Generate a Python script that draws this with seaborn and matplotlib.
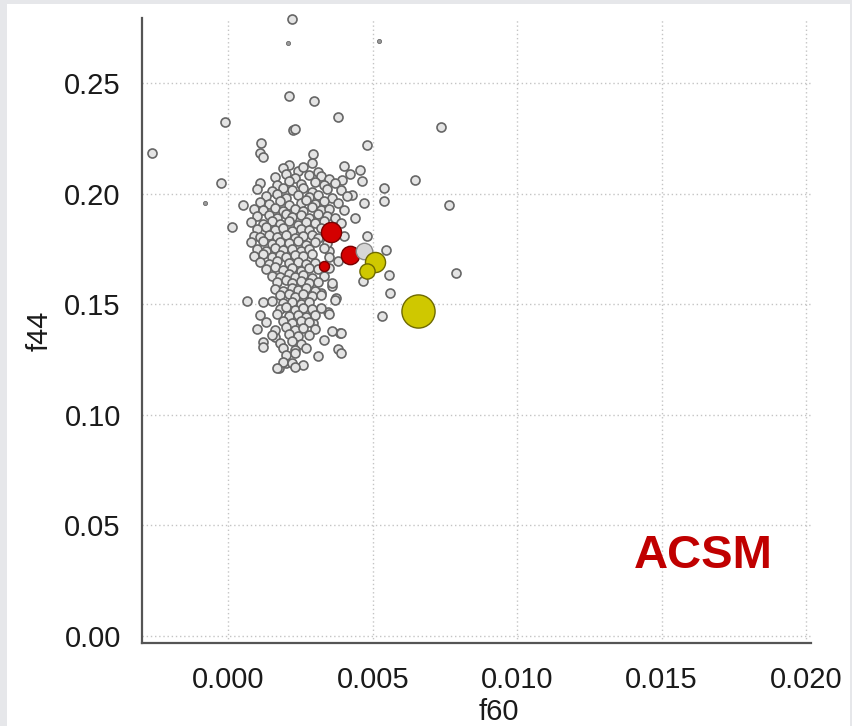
import matplotlib
matplotlib.use("Agg")
import matplotlib.pyplot as plt
from matplotlib.patches import Rectangle
import seaborn as sns
import pandas as pd

# ---------------- data ----------------
# regular grey circles (f60, f44)
f60_grey = [
    # outliers / sparse points
    0.00219, 0.00211, 0.00295, 0.00379, -0.00010, 0.00225, 0.00232, 0.00736,
    -0.00265, 0.00479, 0.00112, 0.00110, 0.00119, 0.00292, 0.00289, 0.00211,
    -0.00025, 0.00645, 0.00765, 0.00787, 0.00538, 0.00538, 0.00400, 0.00455,
    0.00420, 0.00462, 0.00395, 0.00052, 0.00012, 0.00063, 0.00532, 0.00560,
    0.00555, 0.00546, 0.00480, 0.00470, 0.00429, 0.00439, 0.00465, 0.00387,
    0.00346, 0.00372, 0.00360, 0.00349, 0.00321, 0.00294, 0.00162, 0.00177,
    0.00199,
    # dense cluster
    0.0019, 0.0024, 0.0026, 0.0031,
    0.0016, 0.0020, 0.0023, 0.0028, 0.0032, 0.0035,
    0.0011, 0.0017, 0.0021, 0.0025, 0.0030, 0.0033, 0.0037,
    0.0010, 0.0015, 0.0019, 0.0022, 0.0026, 0.0029, 0.0034, 0.0039,
    0.0013, 0.0017, 0.0020, 0.0024, 0.0028, 0.0031, 0.0036, 0.0041,
    0.0011, 0.0014, 0.0018, 0.0021, 0.0025, 0.0027, 0.0030, 0.0033, 0.0038,
    0.0009, 0.0012, 0.0016, 0.0019, 0.0023, 0.0026, 0.0029, 0.0032, 0.0035, 0.0040,
    0.0010, 0.0014, 0.0017, 0.0020, 0.0022, 0.0025, 0.0028, 0.0031, 0.0034, 0.0037,
    0.0008, 0.0012, 0.0015, 0.0018, 0.0021, 0.0024, 0.0027, 0.0030, 0.0033, 0.0039,
    0.0010, 0.0013, 0.0016, 0.0019, 0.0022, 0.0025, 0.0028, 0.0032,
    0.0009, 0.0011, 0.0014, 0.0017, 0.0020, 0.0023, 0.0026, 0.0029, 0.0031, 0.0040,
    0.0008, 0.0012, 0.0015, 0.0018, 0.0021, 0.0024, 0.0027, 0.0030, 0.0034,
    0.0010, 0.0013, 0.0016, 0.0019, 0.0022, 0.0025, 0.0028, 0.0033,
    0.0009, 0.0012, 0.0015, 0.0018, 0.0020, 0.0023, 0.0026, 0.0029, 0.0035,
    0.0011, 0.0014, 0.0017, 0.0021, 0.0024, 0.0027, 0.0030, 0.0038,
    0.0013, 0.0016, 0.0019, 0.0022, 0.0025, 0.0028, 0.0031, 0.0035,
    0.0015, 0.0018, 0.0021, 0.0023, 0.0026, 0.0029, 0.0033,
    0.0017, 0.0020, 0.0022, 0.0025, 0.0028, 0.0031, 0.0036,
    0.0016, 0.0019, 0.0022, 0.0024, 0.0027, 0.0030,
    0.0018, 0.0021, 0.0023, 0.0026, 0.0029, 0.0032,
    0.0012, 0.0015, 0.0019, 0.0022, 0.0025, 0.0028, 0.0037,
    0.0018, 0.0020, 0.0023, 0.0026, 0.0029, 0.0032,
    0.0011, 0.0017, 0.0021, 0.0024, 0.0027, 0.0030, 0.0035,
    0.0013, 0.0019, 0.0022, 0.0025, 0.0028,
    0.0010, 0.0016, 0.0020, 0.0023, 0.0026, 0.0030, 0.0036,
    0.0015, 0.0021, 0.0024, 0.0028, 0.0039,
    0.0012, 0.0018, 0.0022, 0.0025, 0.0033,
    0.0012, 0.0019, 0.0023, 0.0027, 0.0038,
    0.0020, 0.0023, 0.0031, 0.0039,
    0.0019, 0.0022, 0.0026,
    0.0017, 0.0023,
]
f44_grey = [
    # outliers / sparse points
    0.2791, 0.2444, 0.2419, 0.2348, 0.2324, 0.2289, 0.2292, 0.2301,
    0.2186, 0.2219, 0.2230, 0.2186, 0.2165, 0.2179, 0.2141, 0.2130,
    0.2049, 0.2064, 0.1951, 0.1642, 0.2026, 0.1966, 0.2127, 0.2109,
    0.2088, 0.2058, 0.2061, 0.1951, 0.1850, 0.1514, 0.1449, 0.1551,
    0.1631, 0.1744, 0.1808, 0.1957, 0.1992, 0.1889, 0.1603, 0.1369,
    0.1465, 0.1526, 0.1583, 0.1743, 0.1551, 0.1414, 0.1351, 0.1211,
    0.1236,
    # dense cluster
    0.2115, 0.2105, 0.2120, 0.2100,
    0.2075, 0.2090, 0.2070, 0.2085, 0.2078, 0.2068,
    0.2050, 0.2040, 0.2058, 0.2045, 0.2055, 0.2038, 0.2048,
    0.2020, 0.2012, 0.2028, 0.2015, 0.2025, 0.2010, 0.2022, 0.2015,
    0.1990, 0.1998, 0.1982, 0.1995, 0.1985, 0.1992, 0.1980, 0.1988,
    0.1962, 0.1955, 0.1968, 0.1950, 0.1960, 0.1972, 0.1955, 0.1965, 0.1958,
    0.1930, 0.1925, 0.1935, 0.1922, 0.1932, 0.1920, 0.1938, 0.1928, 0.1933, 0.1925,
    0.1900, 0.1905, 0.1892, 0.1908, 0.1895, 0.1902, 0.1890, 0.1906, 0.1898, 0.1892,
    0.1870, 0.1862, 0.1875, 0.1865, 0.1878, 0.1860, 0.1872, 0.1866, 0.1876, 0.1868,
    0.1840, 0.1848, 0.1835, 0.1845, 0.1832, 0.1842, 0.1838, 0.1846,
    0.1810, 0.1802, 0.1815, 0.1805, 0.1812, 0.1800, 0.1808, 0.1815, 0.1798, 0.1808,
    0.1780, 0.1785, 0.1772, 0.1782, 0.1775, 0.1788, 0.1770, 0.1782, 0.1776,
    0.1750, 0.1742, 0.1755, 0.1745, 0.1752, 0.1740, 0.1748, 0.1755,
    0.1720, 0.1728, 0.1715, 0.1725, 0.1712, 0.1722, 0.1718, 0.1726, 0.1715,
    0.1690, 0.1682, 0.1695, 0.1685, 0.1692, 0.1680, 0.1688, 0.1695,
    0.1660, 0.1668, 0.1655, 0.1665, 0.1652, 0.1662, 0.1658, 0.1665,
    0.1630, 0.1622, 0.1635, 0.1625, 0.1632, 0.1620, 0.1628,
    0.1600, 0.1608, 0.1595, 0.1605, 0.1598, 0.1602, 0.1595,
    0.1570, 0.1562, 0.1575, 0.1565, 0.1572, 0.1560,
    0.1540, 0.1548, 0.1535, 0.1545, 0.1538, 0.1542,
    0.1510, 0.1515, 0.1505, 0.1512, 0.1502, 0.1510, 0.1518,
    0.1480, 0.1488, 0.1475, 0.1485, 0.1478, 0.1482,
    0.1450, 0.1455, 0.1445, 0.1452, 0.1442, 0.1450, 0.1458,
    0.1420, 0.1425, 0.1415, 0.1422, 0.1418,
    0.1390, 0.1385, 0.1395, 0.1382, 0.1392, 0.1388, 0.1380,
    0.1360, 0.1365, 0.1355, 0.1362, 0.1368,
    0.1330, 0.1325, 0.1335, 0.1322, 0.1338,
    0.1305, 0.1300, 0.1295, 0.1302, 0.1298,
    0.1270, 0.1278, 0.1266, 0.1278,
    0.1240, 0.1236, 0.1223,
    0.1211, 0.1215,
]
# tiny grey dots
f60_dot = [0.00205, 0.00523, -0.00080]
f44_dot = [0.2681, 0.2692, 0.1960]

# highlighted samples
f60_hl = [0.00355, 0.00421, 0.00332, 0.00471, 0.00508, 0.00479, 0.00656]
f44_hl = [0.1826, 0.1722, 0.1673, 0.1743, 0.1693, 0.1652, 0.1470]
size_hl = [210, 175, 52, 140, 210, 120, 570]
color_hl = ["#d40000", "#d40000", "#d40000", "#d6d6d6", "#cfc800", "#cfc800", "#cfc800"]
edge_hl = ["#7a0000", "#7a0000", "#7a0000", "#8a8a8a", "#6e6a00", "#6e6a00", "#6e6a00"]

xticks = [0.000, 0.005, 0.010, 0.015, 0.020]
yticks = [0.00, 0.05, 0.10, 0.15, 0.20, 0.25]

# ---------------- figure ----------------
sns.set_theme(style="white")
plt.rcParams["font.family"] = ["Liberation Sans", "DejaVu Sans"]

W, H = 853, 726
fig = plt.figure(figsize=(W / 100, H / 100), dpi=100, facecolor="#e6e7ea")
fig.patches.append(Rectangle((7 / W, 0), (850 - 7) / W, (H - 4) / H,
                             transform=fig.transFigure, facecolor="white",
                             edgecolor="none", zorder=-10))

ax = fig.add_axes([142.3 / W, (H - 643.3) / H, (811 - 142.3) / W, (643.3 - 18) / H])
ax.set_zorder(5)
ax.set_facecolor("white")

df_grey = pd.DataFrame({"f60": f60_grey, "f44": f44_grey})
df_dot = pd.DataFrame({"f60": f60_dot, "f44": f44_dot})

sns.scatterplot(data=df_grey, x="f60", y="f44", ax=ax, s=42, color="#e4e4e4",
                edgecolor="#666666", linewidth=1.2, clip_on=False, zorder=3)
sns.scatterplot(data=df_dot, x="f60", y="f44", ax=ax, s=9, color="#9a9a9a",
                edgecolor="#6a6a6a", linewidth=0.6, clip_on=False, zorder=3)

for xv, yv, sv, cv, ev in zip(f60_hl, f44_hl, size_hl, color_hl, edge_hl):
    sns.scatterplot(x=[xv], y=[yv], ax=ax, s=sv, color=cv, edgecolor=ev,
                    linewidth=1.0, zorder=4)

ax.set_xlim(-0.002978, 0.020176)
ax.set_ylim(-0.0034, 0.2795)
ax.set_xticks(xticks)
ax.set_yticks(yticks)
ax.set_xticklabels([f"{v:.3f}" for v in xticks])
ax.set_yticklabels([f"{v:.2f}" for v in yticks])

ax.grid(True, linestyle=(0, (1, 2)), color="#c4c4c4", linewidth=1.0)
ax.set_axisbelow(True)

for side in ["top", "right"]:
    ax.spines[side].set_visible(False)
for side in ["left", "bottom"]:
    ax.spines[side].set_color("#555555")
    ax.spines[side].set_linewidth(1.6)

ax.tick_params(axis="both", direction="out", length=10, width=1.4, color="#555555",
               labelsize=21, labelcolor="#1a1a1a", pad=5.5)
ax.tick_params(axis="x", pad=6.5)

ax.set_xlabel("f60", fontsize=21, color="#1a1a1a")
ax.set_ylabel("f44", fontsize=21, color="#1a1a1a")
ax.xaxis.set_label_coords(0.533, -0.088)
ax.yaxis.set_label_coords(-0.132, 0.5)

ax.text(0.839, 0.139, "ACSM", transform=ax.transAxes, fontsize=34, fontweight="bold",
        color="#c00000", ha="center", va="center")

fig.savefig("out.png", dpi=100, facecolor=fig.get_facecolor())
